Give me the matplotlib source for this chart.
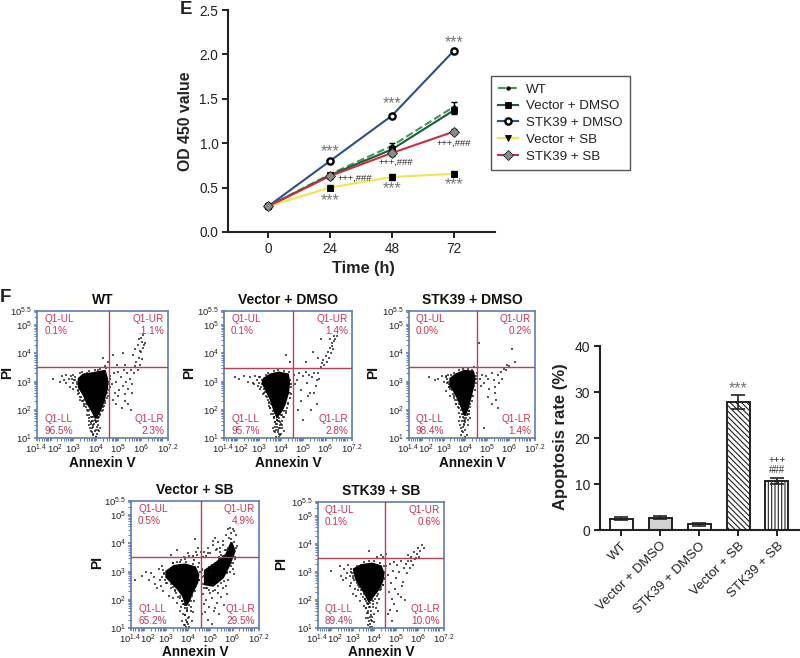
import matplotlib
matplotlib.use('Agg')
import matplotlib.pyplot as plt
import numpy as np
from matplotlib.ticker import LogLocator, NullFormatter
from matplotlib.transforms import ScaledTranslation

plt.rcParams['font.family'] = ['Liberation Sans', 'DejaVu Sans']
plt.rcParams['mathtext.default'] = 'regular'
plt.rcParams['hatch.linewidth'] = 0.8

# ------------------------------------------------------------------------------------------
# Panel E: growth curves
hours = [0, 24, 48, 72]
od_wt = [0.29, 0.65, 0.97, 1.41]
od_vec_dmso = [0.29, 0.64, 0.93, 1.37]
od_stk_dmso = [0.29, 0.80, 1.31, 2.04]
od_vec_sb = [0.29, 0.50, 0.62, 0.655]
od_stk_sb = [0.29, 0.63, 0.89, 1.13]
err_wt = [0.01, 0.02, 0.03, 0.05]
err_vec_dmso = [0.01, 0.02, 0.03, 0.04]
err_stk_dmso = [0.01, 0.02, 0.02, 0.02]
err_vec_sb = [0.01, 0.03, 0.03, 0.03]
err_stk_sb = [0.01, 0.03, 0.03, 0.03]

star_x = [24, 48, 72, 24, 48, 72]
star_y = [0.90, 1.45, 2.13, 0.355, 0.49, 0.53]
sig_x = [33.8, 49.4, 72.1]
sig_y = [0.61, 0.78, 1.00]

# Panel F bars
groups = ['WT', 'Vector + DMSO', 'STK39 + DMSO', 'Vector + SB', 'STK39 + SB']
apoptosis = [2.5, 2.7, 1.2, 27.8, 10.6]
apoptosis_err = [0.4, 0.3, 0.3, 1.5, 0.6]

# Panel F flow plots, everything in log10 units
flow_pct_wt = ['0.1%', '.1.1%', '96.5%', '2.3%']
flow_pct_vd = ['0.1%', '1.4%', '95.7%', '2.8%']
flow_pct_sd = ['0.0%', '0.2%', '98.4%', '1.4%']
flow_pct_vs = ['0.5%', '4,9%', '65.2%', '29.5%']
flow_pct_ss = ['0.1%', '0.6%', '89.4%', '10.0%']

wt_core_x = [3.25, 3.45, 3.9, 4.4, 4.5, 4.5, 4.35, 4.2, 4.0, 3.85, 3.65, 3.45, 3.25]
wt_core_y = [3.1, 3.25, 3.3, 3.38, 3.1, 2.75, 2.3, 2.0, 1.7, 1.95, 2.2, 2.55, 2.8]
wt_x = [2.1, 2.4, 2.5, 2.6, 2.7, 2.8, 2.9, 2.7, 2.85, 3.0, 3.1, 3.0, 3.2, 3.3, 3.4, 3.5, 3.6, 3.6, 3.7,
        3.8, 3.9, 4.0, 4.1, 4.2, 4.3, 4.4, 4.5, 4.6, 3.75, 3.85, 3.9, 4.0, 4.1, 4.15, 3.8, 3.95, 4.05, 3.7,
        3.9, 4.1, 4.0, 3.85, 4.2, 4.65, 4.7, 4.8, 4.85, 4.9, 5.0, 5.05, 5.1, 5.2, 5.25, 5.3, 5.35, 5.4, 5.45,
        5.5, 5.55, 5.6, 4.75, 4.9, 5.0, 5.15, 5.3, 5.45, 5.6, 5.7, 5.75, 5.8, 5.85, 5.9, 5.95, 6.0, 6.05, 6.1,
        5.65, 5.75, 5.85, 5.95, 6.05, 6.15, 5.9, 6.0, 6.1, 6.2, 5.2, 4.3, 4.4, 4.55, 4.75, 4.95, 5.55, 5.3]
wt_y = [3.1, 3.0, 3.2, 3.05, 3.25, 3.1, 3.2, 2.95, 2.8, 3.25, 3.05, 2.75, 2.65, 2.45, 2.3, 2.2, 2.0, 1.8, 1.7,
        1.5, 1.4, 1.55, 1.6, 1.8, 2.0, 2.3, 2.6, 2.9, 1.35, 1.2, 1.1, 1.3, 1.45, 1.25, 1.55, 1.65, 1.15, 1.45,
        1.75, 1.75, 1.05, 1.75, 1.35, 3.2, 2.9, 3.3, 2.6, 3.0, 3.35, 2.7, 3.15, 2.85, 3.4, 2.55, 3.0, 3.3, 2.75,
        3.1, 3.4, 2.9, 2.35, 2.2, 2.5, 2.05, 2.3, 2.2, 2.6, 3.3, 3.55, 3.7, 3.4, 3.85, 3.6, 4.05, 3.8, 4.2,
        3.95, 4.15, 4.3, 4.1, 4.4, 4.3, 4.5, 4.55, 4.65, 4.35, 4.0, 3.85, 3.55, 3.7, 3.95, 3.6, 2.0, 3.6]
wt_fringe_x = [3.1, 3.15, 3.05, 3.18, 3.12, 3.2, 3.28, 3.22, 3.35, 3.3, 3.42, 3.5, 3.48, 3.58, 3.55, 3.65, 3.7, 3.72, 3.8,
               3.82, 3.9, 3.92, 4.02, 4.08, 4.15, 4.2, 4.28, 4.3, 4.38, 4.42, 4.48, 4.55, 4.58, 4.62, 4.6, 4.65, 3.4, 3.7,
               3.95, 4.2, 4.45, 3.3, 3.6, 4.1, 3.0, 2.95, 3.85, 3.95, 4.05, 3.78, 3.9, 4.0, 4.12, 3.72, 4.0, 3.88]
wt_fringe_y = [3.15, 3.0, 3.05, 2.9, 2.8, 2.7, 2.6, 2.55, 2.45, 2.35, 2.3, 2.35, 2.15, 2.1, 2.2, 1.95, 2.0, 1.8, 1.75,
               1.6, 1.6, 1.5, 1.55, 1.7, 1.75, 1.85, 1.95, 2.1, 2.15, 2.25, 2.4, 2.5, 2.7, 2.8, 3.0, 3.1, 3.35, 3.38,
               3.42, 3.45, 3.48, 3.3, 3.32, 3.4, 2.95, 3.1, 1.35, 1.25, 1.4, 1.25, 1.15, 1.05, 1.3, 1.6, 1.6, 1.45]

vd_core_x = [3.2, 3.5, 3.9, 4.3, 4.35, 4.3, 4.15, 4.0, 3.8, 3.65, 3.5, 3.3, 3.15]
vd_core_y = [3.1, 3.25, 3.32, 3.25, 2.95, 2.6, 2.2, 1.95, 1.75, 2.05, 2.4, 2.7, 2.95]
vd_x = [1.9, 2.1, 2.3, 2.5, 2.6, 2.7, 2.8, 2.9, 3.0, 2.75, 2.95, 3.05, 3.2, 3.35, 3.45, 3.5, 3.55, 3.65, 3.7,
        3.8, 3.9, 4.0, 4.1, 4.2, 4.3, 4.4, 4.45, 3.6, 3.7, 3.75, 3.85, 3.95, 4.05, 4.1, 3.65, 3.8, 3.9, 4.0,
        3.75, 3.95, 3.85, 3.7, 4.05, 4.55, 4.6, 4.7, 4.8, 4.9, 5.0, 5.1, 5.15, 5.25, 5.3, 5.4, 5.5, 5.55, 5.6,
        5.65, 5.7, 4.9, 5.2, 5.35, 5.5, 5.6, 4.75, 5.8, 5.85, 5.9, 5.95, 6.0, 6.05, 6.1, 6.15, 6.2, 6.25, 6.3,
        6.35, 6.4, 6.45, 6.5, 6.2, 6.3, 6.4, 5.45, 5.65, 5.8, 5.1, 4.2, 4.4, 5.0]
vd_y = [3.15, 3.1, 3.2, 3.0, 3.15, 2.95, 3.2, 3.05, 3.15, 2.9, 2.85, 2.75, 2.6, 2.45, 2.25, 2.05, 1.85, 1.7, 1.55,
        1.4, 1.6, 1.5, 1.75, 1.95, 2.2, 2.6, 2.9, 1.35, 1.2, 1.05, 1.3, 1.1, 1.45, 1.25, 1.75, 1.65, 1.15, 1.8,
        1.5, 1.35, 1.75, 1.4, 1.6, 3.25, 2.9, 3.05, 3.3, 2.7, 3.2, 3.35, 2.95, 3.25, 2.6, 3.15, 3.3, 2.85, 3.05,
        3.3, 3.1, 2.3, 2.5, 2.0, 2.6, 2.2, 2.0, 3.5, 3.65, 3.75, 3.6, 3.9, 3.7, 4.05, 3.85, 4.2, 4.0, 4.35,
        4.15, 4.45, 4.5, 4.6, 4.5, 4.25, 4.6, 4.05, 3.85, 4.5, 3.7, 3.95, 3.7, 1.65]
vd_fringe_x = [3.05, 3.1, 3.0, 3.12, 3.08, 3.2, 3.25, 3.18, 3.32, 3.38, 3.42, 3.45, 3.55, 3.5, 3.6, 3.62, 3.68, 3.72, 3.78,
               3.85, 3.9, 3.95, 4.02, 4.08, 4.12, 4.2, 4.25, 4.32, 4.38, 4.42, 4.45, 4.4, 3.4, 3.65, 3.85, 4.1, 4.35, 3.3,
               3.75, 3.85, 3.92, 3.98, 3.7, 3.8, 3.9, 4.05, 3.68, 3.88]
vd_fringe_y = [3.15, 3.05, 2.95, 2.9, 2.82, 2.75, 2.62, 2.55, 2.5, 2.35, 2.28, 2.15, 2.2, 2.05, 1.95, 1.85, 1.75, 1.9, 1.65,
               1.6, 1.7, 1.55, 1.8, 1.75, 1.95, 1.9, 2.05, 2.25, 2.4, 2.55, 2.8, 3.05, 3.3, 3.38, 3.4, 3.38, 3.35, 3.25,
               1.3, 1.2, 1.45, 1.15, 1.55, 1.5, 1.05, 1.35, 1.25, 1.35]

sd_core_x = [3.3, 3.55, 3.95, 4.35, 4.42, 4.35, 4.2, 4.1, 3.97, 3.82, 3.65, 3.45, 3.3]
sd_core_y = [3.1, 3.25, 3.38, 3.35, 3.1, 2.8, 2.35, 2.05, 1.8, 2.1, 2.4, 2.7, 2.85]
sd_x = [2.3, 2.6, 2.75, 2.9, 3.0, 3.1, 3.15, 3.2, 3.25, 3.1, 3.3, 3.45, 3.55, 3.65, 3.7, 3.75, 3.85, 3.9, 3.95,
        4.0, 4.05, 4.1, 4.15, 4.2, 4.3, 4.4, 4.5, 3.7, 3.8, 3.9, 4.0, 4.1, 4.2, 3.8, 3.95, 4.05, 4.15, 3.9,
        4.55, 4.65, 4.75, 4.85, 4.95, 5.05, 5.1, 5.2, 5.3, 5.35, 5.5, 5.55, 5.65, 5.7, 5.75, 5.2, 5.4, 5.5, 4.7,
        6.15, 6.3, 4.6, 6.0, 5.85, 5.9, 5.05, 5.35, 4.4, 4.85]
sd_y = [3.15, 3.05, 3.1, 3.2, 3.0, 3.15, 2.95, 3.25, 2.8, 2.65, 2.5, 2.4, 2.2, 2.1, 1.9, 1.75, 1.6, 1.4, 1.7,
        1.55, 1.8, 1.65, 1.95, 2.2, 2.5, 2.85, 3.2, 1.6, 1.35, 1.2, 1.3, 1.45, 1.7, 1.1, 1.45, 1.1, 1.85, 1.75,
        3.3, 3.1, 3.25, 2.95, 3.2, 3.1, 2.75, 3.3, 3.05, 2.6, 3.25, 2.95, 3.35, 3.1, 3.45, 2.2, 2.35, 2.05, 2.85,
        4.15, 3.7, 4.35, 3.55, 3.4, 3.6, 2.45, 2.8, 3.5, 1.35]
sd_fringe_x = [3.15, 3.2, 3.12, 3.25, 3.22, 3.3, 3.38, 3.42, 3.48, 3.52, 3.6, 3.58, 3.68, 3.72, 3.78, 3.82, 3.88, 3.92, 3.98,
               4.04, 4.1, 4.16, 4.22, 4.28, 4.34, 4.42, 4.48, 4.5, 3.45, 3.7, 3.9, 4.1, 4.3, 3.35, 3.85, 3.95, 4.0, 3.75]
sd_fringe_y = [3.1, 3.0, 3.2, 2.9, 2.8, 2.75, 2.7, 2.55, 2.5, 2.35, 2.35, 2.2, 2.2, 2.05, 2.0, 1.85, 1.85, 1.6, 1.65,
               1.7, 1.85, 1.95, 2.1, 2.3, 2.5, 2.7, 2.95, 3.1, 3.3, 3.4, 3.45, 3.45, 3.42, 3.25, 1.25, 1.5, 1.05, 1.45]

vs_core_left_x = [3.0, 3.35, 3.85, 4.3, 4.45, 4.4, 4.2, 4.05, 3.9, 3.75, 3.5, 3.2, 3.0]
vs_core_left_y = [3.0, 3.2, 3.25, 3.15, 2.9, 2.6, 2.3, 2.0, 1.8, 2.15, 2.4, 2.65, 2.8]
vs_core_right_x = [4.75, 5.27, 5.72, 5.95, 6.1, 5.87, 5.57, 5.12, 4.75]
vs_core_right_y = [3.03, 3.32, 3.61, 4.03, 3.73, 3.26, 2.79, 2.5, 2.55]
vs_x = [1.6, 1.9, 2.1, 2.2, 2.3, 2.45, 2.5, 2.65, 2.7, 2.8, 2.9, 2.6, 2.75, 2.85, 3.0, 3.1, 3.2, 3.3, 3.4, 3.5,
        3.6, 3.65, 3.7, 3.75, 3.85, 3.9, 3.95, 4.0, 4.05, 4.1, 4.15, 4.2, 4.25, 3.7, 3.8, 3.85, 3.95, 4.05, 4.1,
        3.6, 3.75, 3.9, 4.0, 3.3, 3.5, 3.65, 3.85, 4.05, 4.25, 4.4, 4.5, 4.55, 4.6, 4.65, 4.7, 4.5, 4.65, 4.8,
        4.85, 4.95, 5.0, 5.05, 5.15, 5.2, 5.3, 5.35, 5.4, 5.5, 5.55, 5.6, 5.7, 5.75, 5.8, 5.9, 6.0, 6.1, 6.2,
        4.7, 4.8, 4.9, 5.0, 5.1, 5.25, 5.35, 5.45, 5.55, 4.75, 4.9, 5.05, 5.2, 4.6, 4.7, 5.85, 5.95, 6.05, 6.15,
        5.7, 5.8, 5.9, 6.0, 5.2, 5.3, 5.45, 5.55, 5.1, 4.9, 3.8, 4.0, 4.2, 4.35, 3.5, 3.2, 3.95, 3.85,
        4.45, 4.3, 5.95, 6.05, 5.75, 5.65]
vs_y = [2.7, 2.85, 3.0, 2.7, 2.95, 2.8, 2.55, 3.1, 2.7, 3.2, 2.95, 2.4, 2.5, 2.3, 2.6, 2.15, 2.4, 2.05, 2.3, 1.9,
        2.15, 1.75, 1.95, 1.5, 1.8, 1.3, 1.6, 1.15, 1.4, 1.75, 1.25, 1.55, 1.95, 1.25, 1.1, 1.45, 1.7, 1.05, 1.6,
        1.6, 1.85, 1.05, 1.35, 3.3, 3.35, 3.4, 3.45, 3.55, 3.4, 3.6, 3.3, 3.7, 3.1, 3.5, 2.4, 2.7, 2.2, 2.0,
        2.4, 1.75, 2.25, 2.05, 1.6, 2.35, 1.9, 2.25, 1.5, 2.1, 2.4, 1.8, 2.5, 2.2, 2.7, 3.0, 3.1, 3.45, 3.9,
        3.7, 3.55, 3.85, 3.65, 3.95, 3.75, 4.05, 3.85, 4.1, 1.55, 1.3, 1.15, 1.7, 1.5, 1.85, 4.2, 4.35, 4.45, 4.3,
        4.3, 4.5, 4.55, 4.5, 4.2, 3.8, 3.7, 3.95, 4.1, 3.65, 3.5, 3.65, 3.55, 3.7, 3.75, 3.6, 1.2, 1.1,
        3.85, 4.15, 3.3, 2.9, 3.0, 3.4]
vs_fringe_x = [2.85, 2.9, 2.8, 2.95, 3.05, 3.1, 3.2, 3.3, 3.38, 3.45, 3.55, 3.62, 3.7, 3.78, 3.85, 3.95, 4.02, 4.1, 4.18, 4.28,
               4.36, 4.48, 4.52, 3.3, 3.6, 3.9, 4.2, 4.45, 4.6, 4.62, 4.68, 4.72, 4.8, 4.88, 4.95, 5.02, 5.12, 5.22, 5.35, 5.48,
               5.62, 5.75, 5.92, 6.02, 6.12, 6.18, 6.05, 5.95, 5.8, 5.65, 5.5, 5.38, 5.05, 4.95, 4.85, 5.4, 5.55, 5.7, 3.85, 3.95]
vs_fringe_y = [3.05, 2.9, 2.8, 2.7, 2.6, 2.75, 2.55, 2.45, 2.35, 2.25, 2.1, 2.05, 1.95, 1.85, 1.7, 1.65, 1.8, 1.95, 2.15, 2.3,
               2.5, 2.7, 3.0, 3.3, 3.35, 3.35, 3.28, 3.15, 3.05, 2.8, 2.55, 2.85, 2.4, 2.6, 2.35, 2.95, 2.3, 2.65, 2.5, 2.6,
               2.65, 2.95, 3.2, 3.3, 3.5, 3.85, 4.05, 4.15, 3.85, 3.75, 3.6, 3.5, 3.25, 3.15, 3.1, 3.45, 3.55, 3.78, 1.45, 1.2]

ss_core_x = [3.05, 3.4, 3.9, 4.3, 4.42, 4.35, 4.15, 3.95, 3.75, 3.55, 3.35, 3.15]
ss_core_y = [3.1, 3.25, 3.3, 3.2, 2.95, 2.65, 2.35, 2.15, 1.95, 2.25, 2.5, 2.75]
ss_x = [2.0, 2.4, 2.45, 2.6, 2.7, 2.8, 2.9, 2.55, 2.75, 2.9, 3.0, 3.1, 2.85, 3.0, 3.15, 3.25, 3.35, 3.4, 3.5, 3.55,
        3.6, 3.65, 3.7, 3.75, 3.8, 3.85, 3.9, 3.95, 4.0, 4.05, 4.1, 4.2, 4.3, 4.4, 4.5, 3.6, 3.7, 3.75, 3.8, 3.85,
        3.9, 3.65, 3.7, 3.8, 3.9, 4.0, 3.75, 3.55, 4.15, 4.55, 4.6, 4.7, 4.75, 4.85, 4.9, 5.0, 5.05, 5.15, 5.2,
        5.3, 5.35, 5.45, 5.5, 5.55, 5.65, 5.7, 5.75, 5.85, 4.65, 4.8, 4.95, 5.1, 5.25, 5.4, 4.7, 4.9, 5.05, 5.2,
        4.8, 4.6, 5.55, 5.7, 5.8, 5.95, 6.0, 6.1, 6.2, 6.3, 5.9, 6.05, 3.75, 4.1, 4.3, 4.4, 4.55]
ss_y = [3.05, 3.2, 2.85, 3.1, 2.8, 3.25, 3.0, 2.7, 2.95, 2.6, 2.85, 2.4, 2.5, 2.2, 2.15, 2.35, 1.95, 2.2, 1.8, 2.05,
        1.7, 1.9, 1.55, 1.75, 1.4, 1.6, 1.25, 1.85, 1.5, 1.7, 1.9, 2.05, 2.4, 2.55, 2.8, 1.35, 1.1, 1.25, 1.05, 1.3,
        1.05, 1.55, 1.85, 1.15, 1.4, 1.2, 1.95, 2.25, 1.6, 3.2, 2.9, 3.3, 2.6, 3.05, 3.35, 2.8, 3.25, 3.0, 3.4,
        2.65, 3.15, 3.3, 2.95, 3.4, 3.15, 3.4, 3.25, 3.45, 2.3, 2.05, 2.4, 2.2, 2.5, 2.0, 1.65, 1.85, 1.6, 2.1,
        1.25, 1.5, 3.6, 3.55, 3.7, 3.65, 3.85, 3.75, 3.95, 3.85, 3.5, 3.55, 3.75, 3.55, 3.6, 3.55, 3.65]
ss_fringe_x = [2.9, 2.95, 2.85, 3.0, 3.05, 3.08, 3.18, 3.22, 3.3, 3.38, 3.42, 3.5, 3.48, 3.58, 3.62, 3.68, 3.72, 3.8, 3.88, 3.95,
               4.02, 4.1, 4.18, 4.25, 4.32, 4.4, 4.46, 4.5, 3.2, 3.5, 3.75, 4.0, 4.25, 4.45, 3.68, 3.78, 3.85, 3.92, 3.62, 3.72]
ss_fringe_y = [3.1, 2.95, 2.85, 2.8, 2.7, 2.95, 2.6, 2.55, 2.45, 2.35, 2.5, 2.2, 2.1, 2.05, 1.95, 2.1, 1.85, 1.9, 2.0, 1.95,
               2.05, 2.15, 2.2, 2.35, 2.45, 2.55, 2.75, 3.0, 3.22, 3.35, 3.38, 3.4, 3.32, 3.2, 1.6, 1.75, 1.45, 1.75, 1.7, 1.35]
# ------------------------------------------------------------------------------------------

W, H = 800, 658
fig = plt.figure(figsize=(W/100, H/100), dpi=100)

def add_axes_px(left, right, top, bottom):
    return fig.add_axes([left/W, 1 - bottom/H, (right - left)/W, (bottom - top)/H])

# ----- Panel E
ax = add_axes_px(228, 495, 10, 232)
curve_styles = [
    (od_wt, err_wt, 'WT', '#3c9a4c', '--', 'o', 2.5, 'k'),
    (od_vec_dmso, err_vec_dmso, 'Vector + DMSO', '#1d5a3e', '-', 's', 5, 'k'),
    (od_stk_dmso, err_stk_dmso, 'STK39 + DMSO', '#2b5092', '-', 'o', 4.5, 'white'),
    (od_vec_sb, err_vec_sb, 'Vector + SB', '#f1e650', '-', 's', 4.5, 'k'),
    (od_stk_sb, err_stk_sb, 'STK39 + SB', '#c8323f', '-', 'D', 5, '#8a8a8a'),
]
for vals, errs, label, color, ls, marker, ms, mfc in curve_styles:
    ax.plot(hours, vals, color=color, ls=ls, lw=1.5, label=label, zorder=3,
            marker=marker, ms=ms, mfc=mfc, mec='#222222' if marker == 'D' else 'k', mew=1.7 if mfc == 'white' else 0.6)
    ax.errorbar(hours, vals, yerr=errs, fmt='none', ecolor='k', elinewidth=1, capsize=2, capthick=1, zorder=2)
ax.set_xlim(-15.6, 88)
ax.set_ylim(0, 2.5)
ax.set_xticks(hours)
ax.set_yticks([0, 0.5, 1.0, 1.5, 2.0, 2.5])
ax.set_yticklabels(['0.0', '0.5', '1.0', '1.5', '2.0', '2.5'])
ax.tick_params(labelsize=9.8, width=1.4, length=4, color='#222222', labelcolor='#222222', pad=3)
for side in ['top', 'right']:
    ax.spines[side].set_visible(False)
for side in ['left', 'bottom']:
    ax.spines[side].set_linewidth(1.5)
    ax.spines[side].set_color('#222222')
for x, y in zip(star_x, star_y):
    ax.text(x, y, '***', color='#777777', fontsize=11.5, ha='center', va='center')
for x, y in zip(sig_x, sig_y):
    ax.text(x, y, '+++,###', color='#222222', fontsize=6.8, ha='center', va='center')
fig.text(186/W, 1 - 121/H, 'OD 450 value', fontsize=11.4, fontweight='bold', rotation=90, ha='center', va='center', color='#222222')
fig.text(363/W, 1 - 268/H, 'Time (h)', fontsize=11.7, fontweight='bold', ha='center', va='center', color='#222222')
fig.text(186/W, 1 - 10/H, 'E', fontsize=13.5, fontweight='bold', ha='center', va='center', color='#222222')
fig.text(5/W, 1 - 298/H, 'F', fontsize=13.5, fontweight='bold', ha='center', va='center', color='#222222')

leg = ax.legend(loc='upper left', bbox_to_anchor=(491/W, 1 - 76/H), bbox_transform=fig.transFigure,
                fontsize=9.6, frameon=True, fancybox=False, framealpha=1, edgecolor='#555555',
                borderaxespad=0, handlelength=1.5, handletextpad=0.55, labelspacing=0.33, borderpad=0.55)
leg.get_frame().set_linewidth(1)
leg.legend_handles[3].set_marker('v')
for t in leg.get_texts():
    t.set_color('#222222')

# ----- Panel F flow plots
blue = '#5f7db5'
red = '#c8354f'
pct_names = ['Q1-UL', 'Q1-UR', 'Q1-LL', 'Q1-LR']
log_ticks = [1, 2, 3, 4, 5, 5.5]

def flow_panel(box, title, gate, cores, xs, ys, pcts, pi_x):
    a = add_axes_px(*box)
    a.set_xscale('log')
    a.set_yscale('log')
    a.set_xlim(10**1.4, 10**7.2)
    a.set_ylim(10**1, 10**5.5)
    for cx, cy in cores:
        a.fill(10**np.array(cx), 10**np.array(cy), color='k', lw=1.5, zorder=2)
    a.scatter(10**np.array(xs), 10**np.array(ys), s=1.1, c='#111111', marker='s', linewidths=0, alpha=0.7, zorder=2)
    a.axvline(10**gate[0], color='#b8405a', lw=1, zorder=3)
    a.axhline(10**gate[1], color='#b8405a', lw=1, zorder=3)
    a.set_xticks([10**v for v in [1.4, 2, 3, 4, 5, 6, 7.2]])
    a.set_xticklabels([r'$10^{1.4}$', r'$10^{2}$', r'$10^{3}$', r'$10^{4}$', r'$10^{5}$', r'$10^{6}$', r'$10^{7.2}$'])
    a.set_yticks([10**v for v in log_ticks])
    a.set_yticklabels([r'$10^{1}$', r'$10^{2}$', r'$10^{3}$', r'$10^{4}$', r'$10^{5}$', r'$10^{5.5}$'])
    for axis in [a.xaxis, a.yaxis]:
        axis.set_minor_locator(LogLocator(base=10, subs=range(2, 10), numticks=12))
        axis.set_minor_formatter(NullFormatter())
    a.tick_params(which='major', labelsize=6.8, length=2.5, width=1.2, color=blue, labelcolor='#222222', pad=1)
    a.tick_params(which='minor', length=2.5, width=0.7, color=blue)
    # the first two x labels would touch, original has them pushed apart
    labels = a.get_xticklabels()
    labels[0].set_transform(labels[0].get_transform() + ScaledTranslation(-1/72, 0, fig.dpi_scale_trans))
    labels[1].set_transform(labels[1].get_transform() + ScaledTranslation(3/72, 0, fig.dpi_scale_trans))
    for s in a.spines.values():
        s.set_color(blue)
        s.set_linewidth(1.2)
    positions = [(0.055, 0.94, 'left'), (0.97, 0.94, 'right'), (0.055, 0.055, 'left'), (0.97, 0.055, 'right')]
    for i, (fx, fy, ha) in enumerate(positions):
        if fy > 0.5:
            a.text(fx, fy, pct_names[i], color=red, fontsize=7.2, ha=ha, va='center', transform=a.transAxes)
            a.text(fx, fy - 0.095, pcts[i], color=red, fontsize=7.2, ha=ha, va='center', transform=a.transAxes)
        else:
            a.text(fx, fy + 0.092, pct_names[i], color=red, fontsize=7.2, ha=ha, va='center', transform=a.transAxes)
            a.text(fx, fy, pcts[i], color=red, fontsize=7.2, ha=ha, va='center', transform=a.transAxes)
    mid = (box[0] + box[1])/2
    fig.text(mid/W, 1 - (box[2] - 11)/H, title, fontsize=10, fontweight='bold', ha='center', va='center', color='#111111')
    fig.text(mid/W, 1 - min(box[3] + 25, 651.5)/H, 'Annexin V', fontsize=9.8, fontweight='bold', ha='center', va='center', color='#111111')
    fig.text(pi_x/W, 1 - ((box[2] + box[3])/2 - 2)/H, 'PI', fontsize=10, fontweight='bold', rotation=90, ha='center', va='center', color='#111111')

flow_panel((37, 168, 311, 438), 'WT', (4.58, 3.51), [(wt_core_x, wt_core_y)],
           wt_x + wt_fringe_x, wt_y + wt_fringe_y, flow_pct_wt, 7)
flow_panel((224, 352, 311, 438), 'Vector + DMSO', (4.53, 3.49), [(vd_core_x, vd_core_y)],
           vd_x + vd_fringe_x, vd_y + vd_fringe_y, flow_pct_vd, 189)
flow_panel((409, 535, 311, 438), 'STK39 + DMSO', (4.51, 3.50), [(sd_core_x, sd_core_y)],
           sd_x + sd_fringe_x, sd_y + sd_fringe_y, flow_pct_sd, 373)
flow_panel((131, 259, 501, 628), 'Vector + SB', (4.57, 3.50), [(vs_core_left_x, vs_core_left_y), (vs_core_right_x, vs_core_right_y)],
           vs_x + vs_fringe_x, vs_y + vs_fringe_y, flow_pct_vs, 97)
flow_panel((318, 444, 502, 628), 'STK39 + SB', (4.48, 3.51), [(ss_core_x, ss_core_y)],
           ss_x + ss_fringe_x, ss_y + ss_fringe_y, flow_pct_ss, 281)

# ----- Panel F bars
b = add_axes_px(600, 800, 346, 530)
pos = np.arange(len(groups))
b.bar(pos, apoptosis, width=0.59, color=['white', '#d2d2d2', 'white', 'white', 'white'], edgecolor='#222222', linewidth=1.4,
      hatch=[None, None, None, '\\\\\\\\\\\\', '|||||'], yerr=apoptosis_err, ecolor='#222222',
      error_kw=dict(elinewidth=1.2, capsize=5, capthick=1.2))
b.set_xlim(-0.54, 4.59)
b.set_ylim(0, 40)
b.set_yticks([0, 10, 20, 30, 40])
b.set_xticks(pos)
b.set_xticklabels(groups, rotation=45, ha='right', rotation_mode='anchor')
b.tick_params(labelsize=10, width=1.4, length=4, color='#222222', labelcolor='#222222', pad=3)
b.tick_params(axis='x', labelsize=9.5)
for side in ['top', 'right']:
    b.spines[side].set_visible(False)
for side in ['left', 'bottom']:
    b.spines[side].set_linewidth(1.5)
    b.spines[side].set_color('#222222')
b.text(3, 30.7, '***', color='#777777', fontsize=11.5, ha='center', va='center')
b.text(4, 15.3, '+++', color='#333333', fontsize=7, ha='center', va='center')
b.text(4, 13.1, '###', color='#333333', fontsize=7, ha='center', va='center')
fig.text(561/W, 1 - 437/H, 'Apoptosis rate (%)', fontsize=12, fontweight='bold', rotation=90, ha='center', va='center', color='#222222')

fig.savefig('out.png', dpi=100)
